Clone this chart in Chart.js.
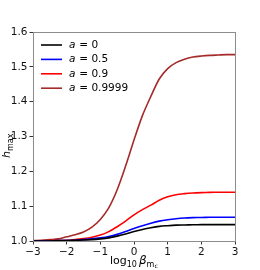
<!DOCTYPE html>
<html>
<head>
<meta charset="utf-8">
<script src="https://cdn.jsdelivr.net/npm/chart.js@4.4.1/dist/chart.umd.min.js"></script>
<style>
  html, body { margin:0; padding:0; background:#fff; }
  #wrap { width:260px; height:270px; }
</style>
</head>
<body>
<div id="wrap"><canvas id="c" width="260" height="270"></canvas></div>
<script>
// log10 beta grid (x) and h_max for each spin
const logBeta = [-3,-2.75,-2.5,-2.25,-2,-1.75,-1.5,-1.25,-1,-0.75,-0.5,-0.25,0,0.25,0.5,0.75,1,1.25,1.5,1.75,2,2.25,2.5,2.75,3];
const hA0    = [1.000,1.000,1.000,1.001,1.001,1.002,1.003,1.004,1.006,1.009,1.014,1.020,1.027,1.033,1.038,1.042,1.044,1.0455,1.046,1.0465,1.047,1.047,1.047,1.047,1.047];
const hA05   = [1.000,1.000,1.000,1.001,1.001,1.002,1.004,1.006,1.009,1.013,1.019,1.027,1.036,1.044,1.051,1.057,1.061,1.064,1.066,1.067,1.0675,1.068,1.068,1.068,1.068];
const hA09   = [1.000,1.000,1.001,1.001,1.002,1.004,1.007,1.011,1.017,1.027,1.041,1.057,1.075,1.090,1.103,1.117,1.127,1.133,1.136,1.138,1.139,1.1395,1.14,1.14,1.14];
const hA9999 = [1.001,1.002,1.004,1.006,1.012,1.018,1.026,1.040,1.062,1.095,1.147,1.215,1.290,1.360,1.415,1.465,1.495,1.512,1.522,1.528,1.531,1.533,1.534,1.535,1.535];
const spins = ['0','0.5','0.9','0.9999'];
const colors = ['#000000','#0000ff','#ff0000','#a52a2a'];
const xTicks = [-3,-2,-1,0,1,2,3];
const yTicks = [1.0,1.1,1.2,1.3,1.4,1.5,1.6];

const series = [hA0, hA05, hA09, hA9999];
const datasets = series.map((s,i)=>({
  label: 'a = ' + spins[i],
  data: s.map((v,j)=>({x: logBeta[j], y: v})),
  borderColor: colors[i], borderWidth: 1.6, pointRadius: 0, tension: 0.3, fill: false
}));

const FONT = '"DejaVu Sans", sans-serif';
const minus = v => String(v).replace('-', '\u2212');

const decor = {
  id: 'decor',
  afterDraw(chart){
    const {ctx, chartArea: a} = chart;
    ctx.save();
    // frame
    ctx.strokeStyle = '#8c8c8c'; ctx.lineWidth = 1;
    ctx.strokeRect(a.left+0.5, a.top+0.5, a.right-a.left, a.bottom-a.top);
    // legend
    ctx.textBaseline = 'middle';
    spins.forEach((s,i)=>{
      const y = 45 + i*14.4;
      ctx.strokeStyle = colors[i]; ctx.lineWidth = 1.6;
      ctx.beginPath(); ctx.moveTo(41, y); ctx.lineTo(62, y); ctx.stroke();
      ctx.fillStyle = '#000';
      ctx.font = 'italic 10.5px ' + FONT;
      ctx.fillText('a', 69, y);
      ctx.font = '10.5px ' + FONT;
      ctx.fillText(' = ' + s, 69 + ctx.measureText('a').width + 0.5, y);
    });
    // x title: log10 beta_mc
    ctx.fillStyle = '#000';
    ctx.textBaseline = 'alphabetic';
    let x = 110, yb = 264;
    ctx.font = '11px ' + FONT; ctx.fillText('log', x, yb); x += ctx.measureText('log').width;
    ctx.font = '8px ' + FONT; ctx.fillText('10', x, yb+2.5); x += ctx.measureText('10').width + 2;
    ctx.font = 'italic 12px ' + FONT; ctx.fillText('\u03b2', x, yb); x += ctx.measureText('\u03b2').width;
    ctx.font = '8px ' + FONT; ctx.fillText('m', x, yb+2.5); x += ctx.measureText('m').width;
    ctx.font = '6px ' + FONT; ctx.fillText('c', x, yb+4);
    // y title: h_max
    ctx.translate(10, 146); ctx.rotate(-Math.PI/2);
    ctx.font = 'italic 11px ' + FONT; ctx.fillText('h', -12, 0);
    const hw = ctx.measureText('h').width;
    ctx.font = '8px ' + FONT; ctx.fillText('max', -12 + hw, 2.5);
    ctx.restore();
  }
};

new Chart(document.getElementById('c'), {
  type: 'line',
  data: { datasets },
  options: {
    responsive: false, animation: false,
    layout: { padding: { top: 32, right: 25, left: 0, bottom: 0 } },
    plugins: { legend: { display: false }, tooltip: { enabled: false } },
    scales: {
      x: {
        type: 'linear', min: -3, max: 3,
        afterBuildTicks: s => { s.ticks = xTicks.map(v => ({value: v})); },
        afterFit: s => { s.height = 29; },
        grid: { display: true, drawOnChartArea: false, drawTicks: true, tickLength: 3.5, tickColor: '#333' },
        border: { display: false },
        ticks: { color: '#111', font: { family: FONT, size: 10.5 }, padding: 1, maxRotation: 0, callback: v => minus(v) }
      },
      y: {
        type: 'linear', min: 1.0, max: 1.6,
        afterBuildTicks: s => { s.ticks = yTicks.map(v => ({value: v})); },
        afterFit: s => { s.width = 33; },
        grid: { display: true, drawOnChartArea: false, drawTicks: true, tickLength: 3.5, tickColor: '#333' },
        border: { display: false },
        ticks: { color: '#111', font: { family: FONT, size: 10.5 }, padding: 2, callback: v => v.toFixed(1) }
      }
    }
  },
  plugins: [decor]
});
</script>
</body>
</html>
